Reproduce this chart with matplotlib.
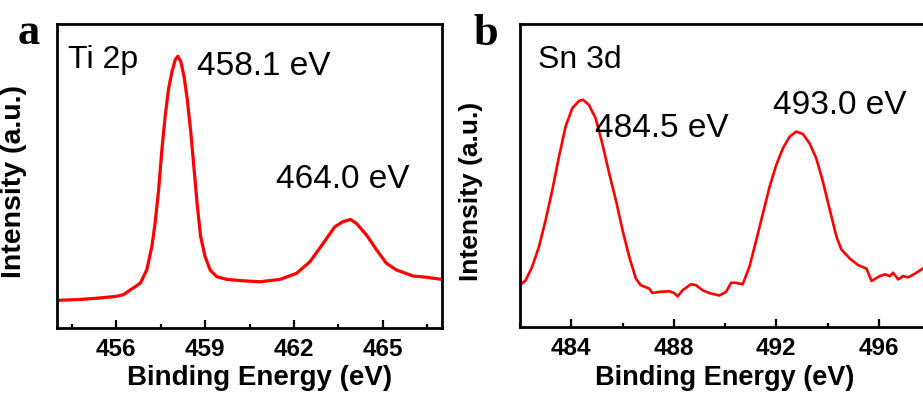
import matplotlib
matplotlib.use('Agg')
import matplotlib.pyplot as plt
from matplotlib.ticker import MultipleLocator
import numpy as np

# Ti 2p spectrum (arbitrary intensity)
tiEnergy = [454.0, 454.8, 455.46, 456.0, 456.25, 456.47, 456.81, 457.03, 457.2, 457.31,
            457.43, 457.54, 457.65, 457.76, 457.88, 457.99, 458.08, 458.18, 458.29,
            458.4, 458.52, 458.63, 458.74, 458.85, 459.0, 459.17, 459.39, 459.73,
            460.18, 460.85, 461.53, 462.09, 462.54, 462.99, 463.38, 463.66, 463.91,
            464.11, 464.45, 464.79, 465.12, 465.46, 466.02, 466.47, 466.97]
tiInt = [0.091, 0.094, 0.099, 0.104, 0.110, 0.125, 0.147, 0.191, 0.267, 0.344,
         0.454, 0.586, 0.695, 0.783, 0.843, 0.882, 0.894, 0.876, 0.827,
         0.750, 0.640, 0.520, 0.399, 0.300, 0.235, 0.191, 0.169, 0.160,
         0.156, 0.152, 0.160, 0.180, 0.218, 0.279, 0.333, 0.350, 0.357,
         0.344, 0.306, 0.257, 0.213, 0.191, 0.171, 0.167, 0.160]

# Sn 3d spectrum
snEnergy = [481.95, 482.22, 482.47, 482.74, 483.0, 483.26, 483.52, 483.78, 484.04,
            484.3, 484.46, 484.69, 484.95, 485.21, 485.48, 485.74, 486.0, 486.26,
            486.52, 486.71, 487.04, 487.17, 487.43, 487.82, 488.02, 488.15, 488.34,
            488.67, 488.87, 489.13, 489.39, 489.59, 489.78, 490.04, 490.24, 490.43,
            490.69, 490.95, 491.22, 491.48, 491.74, 492.0, 492.26, 492.52, 492.78,
            493.04, 493.3, 493.56, 493.82, 494.09, 494.35, 494.54, 494.87, 495.2,
            495.52, 495.72, 496.04, 496.24, 496.43, 496.56, 496.76, 496.95, 497.15,
            497.41, 497.72, 498.0]
snInt = [0.135, 0.154, 0.198, 0.265, 0.353, 0.452, 0.562, 0.662, 0.722,
         0.746, 0.750, 0.733, 0.689, 0.606, 0.507, 0.419, 0.320, 0.232,
         0.160, 0.138, 0.127, 0.112, 0.116, 0.118, 0.112, 0.101, 0.121,
         0.141, 0.138, 0.121, 0.112, 0.108, 0.104, 0.116, 0.146, 0.146,
         0.141, 0.198, 0.287, 0.375, 0.463, 0.535, 0.590, 0.628, 0.645,
         0.637, 0.606, 0.557, 0.480, 0.386, 0.298, 0.256, 0.226, 0.204,
         0.193, 0.152, 0.168, 0.174, 0.168, 0.179, 0.157, 0.168, 0.164,
         0.176, 0.193, 0.204]

plt.rcParams['font.family'] = ['Liberation Sans', 'DejaVu Sans']

fig = plt.figure(figsize=(9.23, 3.97), dpi=100)
axA = fig.add_axes([0.0618, 0.1738, 0.4171, 0.7657])
axB = fig.add_axes([0.5634, 0.1763, 0.4442, 0.7632])


def styleAxes(ax, xlim, major, lw_tick=1.6):
    ax.set_xlim(*xlim)
    ax.set_ylim(0, 1)
    ax.xaxis.set_major_locator(MultipleLocator(major))
    ax.xaxis.set_minor_locator(MultipleLocator(major / 2))
    ax.set_yticks([])
    ax.tick_params(axis='x', which='major', direction='in', length=5.5,
                   width=lw_tick, pad=7, labelsize=17.5)
    ax.tick_params(axis='x', which='minor', direction='in', length=3,
                   width=lw_tick)
    ax.tick_params(top=False, which='both')
    for lab in ax.get_xticklabels():
        lab.set_fontweight('bold')
    for s in ax.spines.values():
        s.set_linewidth(2.0)


# panel a
axA.plot(tiEnergy, tiInt, color='#ff0000', lw=2.3)
styleAxes(axA, (454, 467), 3)
axA.set_xlabel('Binding Energy (eV)', fontsize=20, fontweight='bold')
axA.set_ylabel('Intensity (a.u.)', fontsize=20.5, fontweight='bold')
axA.xaxis.set_label_coords(0.527, -0.122)
axA.yaxis.set_label_coords(-0.077, 0.482)
axA.text(0.029, 0.855, 'Ti 2p', transform=axA.transAxes, fontsize=23, va='baseline')
axA.text(0.364, 0.832, '458.1 eV', transform=axA.transAxes, fontsize=24, va='baseline')
axA.text(0.569, 0.4605, '464.0 eV', transform=axA.transAxes, fontsize=24, va='baseline')

# panel b
axB.plot(snEnergy, snInt, color='#ff0000', lw=1.9)
styleAxes(axB, (482, 498), 4)
axB.set_xlabel('Binding Energy (eV)', fontsize=19.5, fontweight='bold')
axB.set_ylabel('Intensity (a.u.)', fontsize=19, fontweight='bold')
axB.xaxis.set_label_coords(0.5, -0.125)
axB.yaxis.set_label_coords(-0.09, 0.447)
axB.text(0.044, 0.855, 'Sn 3d', transform=axB.transAxes, fontsize=23, va='baseline')
axB.text(0.183, 0.627, '484.5 eV', transform=axB.transAxes, fontsize=24, va='baseline')
axB.text(0.617, 0.703, '493.0 eV', transform=axB.transAxes, fontsize=24, va='baseline')

fig.text(0.0195, 0.889, 'a', fontsize=32, fontweight='bold',
         family=['Liberation Serif', 'DejaVu Serif'], va='baseline')
fig.text(0.5125, 0.887, 'b', fontsize=32, fontweight='bold',
         family=['Liberation Serif', 'DejaVu Serif'], va='baseline')

fig.savefig('out.png', dpi=100)
